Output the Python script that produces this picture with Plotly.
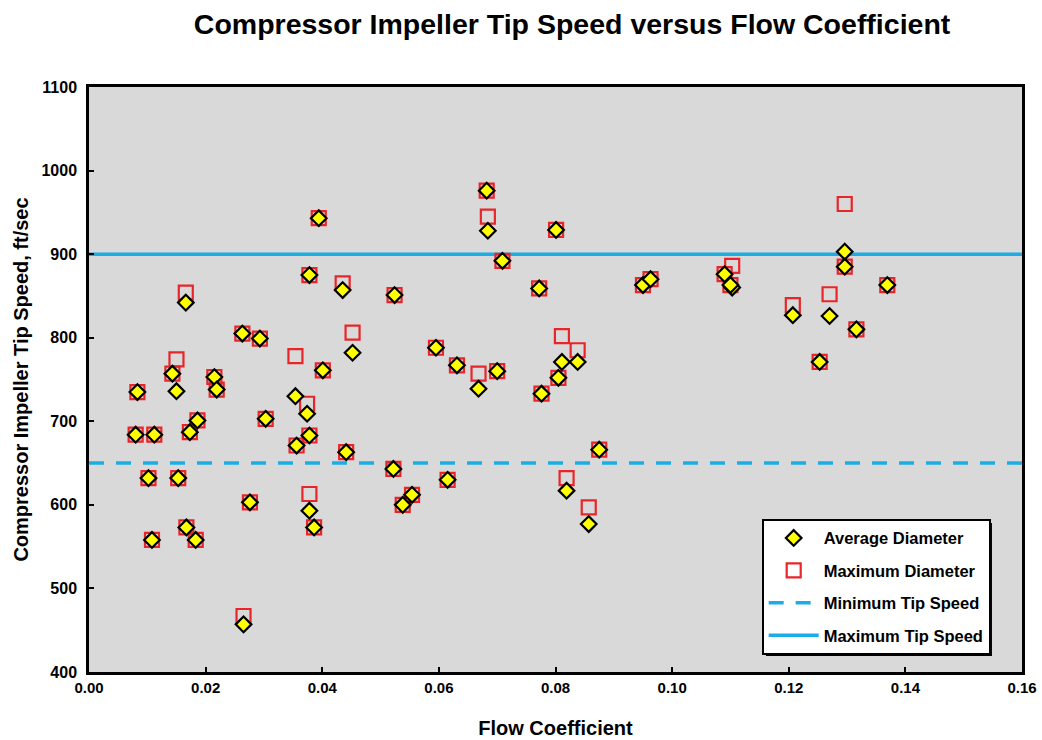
import plotly.graph_objects as go

# Data
flow_coef = [0.0080, 0.0083, 0.0102, 0.0108, 0.0112, 0.0143, 0.0150, 0.0153, 0.0166, 0.0167,
             0.0173, 0.0183, 0.0186, 0.0215, 0.0219, 0.0263, 0.0265, 0.0276, 0.0293, 0.0303,
             0.0354, 0.0356, 0.0374, 0.0378, 0.0378, 0.0378, 0.0386, 0.0394, 0.0401, 0.0435,
             0.0441, 0.0452, 0.0522, 0.0524, 0.0538, 0.0554, 0.0595, 0.0615, 0.0631, 0.0668,
             0.0682, 0.0684, 0.0700, 0.0709, 0.0772, 0.0776, 0.0801, 0.0805, 0.0811, 0.0819,
             0.0838, 0.0857, 0.0875, 0.0950, 0.0963, 0.1090, 0.1103, 0.1100, 0.1207, 0.1253,
             0.1270, 0.1296, 0.1296, 0.1316, 0.1369]
avg_diameter = [684, 735, 632, 558, 684, 757, 736, 632, 842, 573,
                687, 558, 701, 753, 738, 805, 457, 603, 799, 703,
                730, 671, 709, 875, 683, 593, 573, 943, 761, 857,
                663, 782, 643, 851, 600, 612, 788, 630, 767, 739,
                976, 928, 760, 892, 859, 733, 929, 752, 771, 617,
                771, 577, 666, 863, 870, 876, 860, 863, 827, 771,
                826, 903, 885, 810, 863]
max_diameter = [684, 735, 632, 558, 684, 757, 774, 632, 854, 573,
                687, 558, 701, 753, 738, 805, 467, 603, 799, 703,
                778, 671, 721, 875, 683, 613, 573, 943, 761, 865,
                663, 806, 643, 851, 600, 612, 788, 630, 767, 757,
                976, 945, 760, 892, 859, 733, 929, 752, 802, 632,
                785, 597, 666, 863, 870, 876, 886, 863, 839, 771,
                852, 960, 885, 810, 863]
line_x = [0.0, 0.16]
min_tip_speed = [650, 650]
max_tip_speed = [900, 900]

FONT = "Liberation Sans, Arial, sans-serif"
BLUE = "#1BAEE6"

fig = go.Figure()
fig.add_trace(go.Scatter(
    x=line_x, y=min_tip_speed, mode="lines", name="Minimum Tip Speed", legendrank=3,
    legendgroup="c", line=dict(color=BLUE, width=3.5, dash="15px,12px")))
fig.add_trace(go.Scatter(
    x=line_x, y=max_tip_speed, mode="lines", name="Maximum Tip Speed", legendrank=4,
    legendgroup="d", line=dict(color=BLUE, width=3.5)))
fig.add_trace(go.Scatter(
    x=flow_coef, y=max_diameter, mode="markers", name="Maximum Diameter", legendrank=2,
    legendgroup="b",
    marker=dict(symbol="square-open", size=14, color="#E8262A", line=dict(width=2.2, color="#E8262A"))))
fig.add_trace(go.Scatter(
    x=flow_coef, y=avg_diameter, mode="markers", name="Average Diameter", legendrank=1,
    legendgroup="a",
    marker=dict(symbol="diamond", size=12, color="#FFFF00", line=dict(width=2.2, color="#000000"))))

# legend shadow
fig.add_shape(type="rect", xref="paper", yref="paper",
              x0=0.7256, x1=0.9678, y0=0.0274, y1=0.2547,
              fillcolor="black", line=dict(width=0), layer="above")

fig.update_layout(
    width=1042, height=740,
    margin=dict(l=89, r=20, t=87, b=68),
    paper_bgcolor="white", plot_bgcolor="#D9D9D9",
    title=dict(text="Compressor Impeller Tip Speed versus Flow Coefficient",
               x=0.549, xanchor="center", y=0.968, yanchor="middle",
               font=dict(family=FONT, size=28.5, color="black", weight="bold")),
    showlegend=True,
    legend=dict(x=0.721, y=0.262, xanchor="left", yanchor="top",
                bgcolor="white", bordercolor="black", borderwidth=2,
                font=dict(family=FONT, size=16.5, color="black", weight="bold"),
                itemwidth=50, tracegroupgap=8),
    font=dict(family=FONT, color="black"),
)
fig.update_xaxes(range=[0, 0.16], dtick=0.02, tickformat=".2f",
                 showgrid=False, zeroline=False, automargin=False,
                 showline=True, linecolor="black", linewidth=2.5, mirror=True,
                 ticks="inside", ticklen=5, tickwidth=1.5, tickcolor="black",
                 tickfont=dict(family=FONT, size=15, color="black", weight="bold"),
                 title=dict(text="Flow Coefficient", standoff=27,
                            font=dict(family=FONT, size=20, color="black", weight="bold")))
fig.update_yaxes(range=[400, 1100], dtick=100,
                 showgrid=False, zeroline=False, automargin=False,
                 showline=True, linecolor="black", linewidth=2.5, mirror=True,
                 ticks="inside", ticklen=5, tickwidth=1.5, tickcolor="black",
                 ticklabelstandoff=6,
                 tickfont=dict(family=FONT, size=16, color="black", weight="bold"),
                 title=dict(text="Compressor Impeller Tip Speed, ft/sec", standoff=8,
                            font=dict(family=FONT, size=20, color="black", weight="bold")))

fig.write_html("out.html")
